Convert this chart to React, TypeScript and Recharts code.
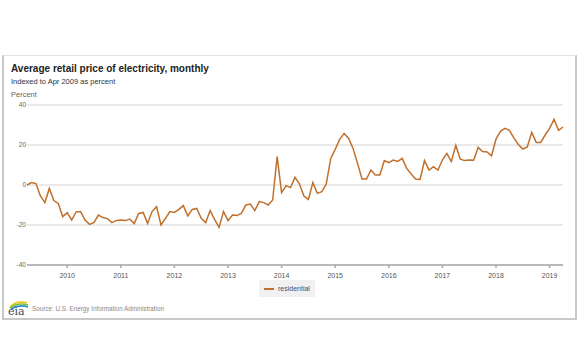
import { LineChart, Line, XAxis, YAxis, CartesianGrid } from 'recharts'

// monthly, starting Apr 2009 (index 0)
const startYear = 2009
const startMonth = 4

const residential = [
  0, 1.2, 0.7, -5.5, -8.8, -1.7, -7.8, -9.2, -15.8,
  -13.8, -17.5, -13.5, -13.3, -17.5, -19.7, -18.7, -15, -16.3, -16.8, -18.8, -17.7,
  -17.5, -17.8, -17, -19.3, -14.2, -13.7, -19.2, -13.3, -10.8, -20, -16.7, -13.3,
  -13.7, -12.2, -10.3, -15.5, -12.2, -11.7, -16.7, -18.8, -12.8, -17.2, -21.2, -13.3,
  -17.8, -15, -15.3, -14.2, -10, -9.5, -12.8, -8.3, -8.8, -10, -7.5, 14.2,
  -3.8, -0.3, -1.3, 3.8, 0.5, -5.5, -7.2, 1.2, -4.2, -3.3, 0.5, 13.3,
  17.8, 22.8, 25.8, 23.3, 18.3, 10.8, 3, 3, 7.5, 5, 5, 12.2,
  11.2, 12.5, 11.8, 13.3, 8.3, 5.5, 3, 2.8, 12.2, 7.5, 9.2, 7.5,
  12.5, 15.8, 11.7, 19.8, 12.9, 12.2, 12.5, 12.4, 18.8, 16.7, 16.5, 14.6,
  23, 26.8, 28.3, 27.3, 23.6, 20.3, 18, 19, 26.3, 21.3, 21.3, 25,
  28.3, 32.8, 27.3, 29,
]

const years = [2010, 2011, 2012, 2013, 2014, 2015, 2016, 2017, 2018, 2019]
const yTicks = [-40, -20, 0, 20, 40]

const data = residential.map((v, i) => ({ i, residential: v }))
const xTicks = years.map((y) => (y - startYear) * 12 - (startMonth - 1))
const yearAt = (i: number) => String(years[xTicks.indexOf(i)])

const font = '"Liberation Sans", Arial, sans-serif'

function EiaLogo() {
  return (
    <svg width={22} height={18} style={{ position: 'absolute', left: 7, top: 299 }}>
      <path d="M3 8 Q10 1 20 4" stroke="#f2c500" strokeWidth={1.5} fill="none" />
      <path d="M3 9 Q11 3 21 6" stroke="#7cbf3a" strokeWidth={1.5} fill="none" />
      <path d="M4 10 Q12 5 21 8" stroke="#2e8fce" strokeWidth={1.5} fill="none" />
      <text x={1} y={16} fontFamily="DejaVu Serif, serif" fontSize={11} fill="#3a4a5a">
        eia
      </text>
    </svg>
  )
}

export default function App() {
  return (
    <div
      style={{
        position: 'absolute',
        left: 0,
        top: 0,
        width: 580,
        height: 361,
        background: '#fff',
        fontFamily: font,
      }}
    >
      <div
        style={{
          position: 'absolute',
          left: 2,
          top: 55,
          width: 571,
          height: 262,
          borderTop: '1px solid #e2e2e2',
          borderLeft: '2px solid #c8c8c8',
          borderRight: '2px solid #c8c8c8',
          borderBottom: '2px solid #c8c8c8',
        }}
      />
      <div style={{ position: 'absolute', left: 11, top: 63, fontSize: 10, fontWeight: 'bold', color: '#222' }}>
        Average retail price of electricity, monthly
      </div>
      <div style={{ position: 'absolute', left: 11, top: 77, fontSize: 7.5, color: '#333' }}>
        Indexed to Apr 2009 as percent
      </div>
      <div style={{ position: 'absolute', left: 11, top: 90, fontSize: 7.5, color: '#666' }}>
        Percent
      </div>

      <div style={{ position: 'absolute', left: 0, top: 0 }}>
        <LineChart width={580} height={361} data={data} margin={{ top: 105, right: 17, bottom: 76, left: 0 }}>
          <CartesianGrid vertical={false} stroke="#e2e2e2" strokeWidth={1.5} />
          <XAxis
            dataKey="i"
            type="number"
            domain={[0, residential.length - 1]}
            ticks={xTicks}
            tickFormatter={yearAt}
            height={20}
            stroke="#a8a8a8"
            strokeWidth={1.5}
            tickSize={3}
            tickMargin={5}
            tick={{ fill: '#555', fontSize: 7 }}
          />
          <YAxis
            domain={[-40, 40]}
            ticks={yTicks}
            width={27}
            axisLine={false}
            tickLine={false}
            tickSize={0}
            tickMargin={1}
            tick={{ fill: '#666', fontSize: 6.5 }}
          />
          <Line
            type="linear"
            dataKey="residential"
            stroke="#c0702a"
            strokeWidth={1.5}
            dot={false}
            isAnimationActive={false}
          />
        </LineChart>
      </div>

      <div
        style={{
          position: 'absolute',
          left: 259,
          top: 280,
          width: 56,
          height: 17,
          background: '#f1f1f1',
          display: 'flex',
          alignItems: 'center',
          fontSize: 7,
          color: '#3c4f6e',
        }}
      >
        <span style={{ display: 'inline-block', width: 10, height: 2, background: '#c0702a', margin: '0 4px 0 5px' }} />
        residential
      </div>

      <EiaLogo />
      <div style={{ position: 'absolute', left: 32, top: 305, fontSize: 6.3, color: '#888' }}>
        Source: U.S. Energy Information Administration
      </div>
    </div>
  )
}
